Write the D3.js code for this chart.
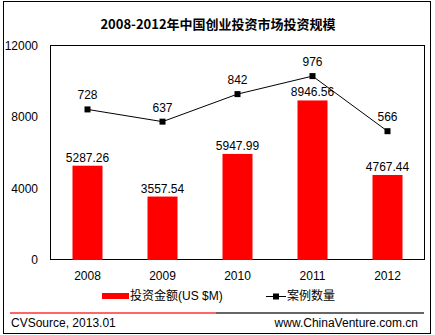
<!DOCTYPE html>
<html><head><meta charset="utf-8">
<script src="https://d3js.org/d3.v7.min.js"></script>
<style>body{margin:0;background:#fff}svg{display:block}</style>
</head><body>
<script>
const years = ["2008","2009","2010","2011","2012"];
const amounts = [5287.26, 3557.54, 5947.99, 8946.56, 4767.44];
const amountLabels = ["5287.26","3557.54","5947.99","8946.56","4767.44"];
const cases = [728, 637, 842, 976, 566];
const yTicks = [0, 4000, 8000, 12000];
const title = "2008-2012年中国创业投资市场投资规模";
const legendBar = "投资金额(US $M)";
const legendLine = "案例数量";
const sourceText = "CVSource, 2013.01";
const siteText = "www.ChinaVenture.com.cn";

const W = 435, H = 335;
const svg = d3.select("body").append("svg").attr("width", W).attr("height", H);
const numFont = "'Liberation Sans', Arial, sans-serif";
const cjkFont = "'Liberation Sans', 'Noto Sans CJK SC', sans-serif";

svg.append("rect").attr("x", 3.5).attr("y", 1.5).attr("width", 427).attr("height", 332)
  .attr("fill", "#fff").attr("stroke", "#000");

svg.append("text").attr("x", 218).attr("y", 29).attr("text-anchor", "middle")
  .attr("font-family", "'Noto Sans CJK SC', sans-serif").attr("font-weight", "bold")
  .attr("font-size", 13).attr("fill", "#000").text(title);

const L = 50, R = 425, T = 46, B = 260;
const x = d3.scaleBand().domain(years).range([L, R]).paddingInner(0.6).paddingOuter(0.3);
const y = d3.scaleLinear().domain([0, 12000]).range([B, T]);
const y2 = d3.scaleLinear().domain([-400, 1200]).range([B + 1, T]);

svg.append("rect").attr("x", L + 0.5).attr("y", T - 0.5).attr("width", R - L - 1).attr("height", B - T)
  .attr("fill", "none").attr("stroke", "#000");

// y tick labels
svg.append("g").selectAll("text").data(yTicks).join("text")
  .attr("x", 38).attr("y", d => y(d) + 4).attr("text-anchor", "end")
  .attr("font-family", numFont).attr("font-size", 12).attr("fill", "#000").text(d => d);

// x labels
svg.append("g").selectAll("text").data(years).join("text")
  .attr("x", d => x(d) + x.bandwidth() / 2).attr("y", B + 20).attr("text-anchor", "middle")
  .attr("font-family", numFont).attr("font-size", 12).attr("fill", "#000").text(d => d);

// bars
svg.append("g").selectAll("rect").data(amounts).join("rect")
  .attr("x", (d, i) => x(years[i])).attr("width", x.bandwidth())
  .attr("y", d => y(d)).attr("height", d => B - y(d)).attr("fill", "#ff0000");

svg.append("g").selectAll("text").data(amounts).join("text")
  .attr("x", (d, i) => x(years[i]) + x.bandwidth() / 2).attr("y", d => y(d) - 4)
  .attr("text-anchor", "middle").attr("font-family", numFont).attr("font-size", 12)
  .attr("fill", "#000").text((d, i) => amountLabels[i]);

// line
const cx = i => x(years[i]) + x.bandwidth() / 2;
const line = d3.line().x((d, i) => cx(i)).y(d => y2(d));
svg.append("path").datum(cases).attr("d", line).attr("fill", "none").attr("stroke", "#000").attr("stroke-width", 1);
svg.append("g").selectAll("rect").data(cases).join("rect")
  .attr("x", (d, i) => cx(i) - 3).attr("y", d => y2(d) - 3).attr("width", 6).attr("height", 6).attr("fill", "#000");
svg.append("g").selectAll("text").data(cases).join("text")
  .attr("x", (d, i) => cx(i)).attr("y", d => y2(d) - 10).attr("text-anchor", "middle")
  .attr("font-family", numFont).attr("font-size", 12).attr("fill", "#000").text(d => d);

// legend
svg.append("rect").attr("x", 102).attr("y", 293).attr("width", 27).attr("height", 6).attr("fill", "#ff0000");
svg.append("text").attr("x", 130).attr("y", 300).attr("font-family", cjkFont).attr("font-size", 12)
  .attr("fill", "#000").text(legendBar);
svg.append("line").attr("x1", 266).attr("x2", 286).attr("y1", 296.5).attr("y2", 296.5).attr("stroke", "#000");
svg.append("rect").attr("x", 273).attr("y", 293.5).attr("width", 6).attr("height", 6).attr("fill", "#000");
svg.append("text").attr("x", 287).attr("y", 300).attr("font-family", cjkFont).attr("font-size", 12)
  .attr("fill", "#000").text(legendLine);

// footer
svg.append("line").attr("x1", 10).attr("x2", 216).attr("y1", 313).attr("y2", 313).attr("stroke", "#ff3333").attr("stroke-width", 1.5);
svg.append("line").attr("x1", 216).attr("x2", 424).attr("y1", 313).attr("y2", 313).attr("stroke", "#333").attr("stroke-width", 1.5);
svg.append("text").attr("x", 11).attr("y", 327).attr("font-family", numFont).attr("font-size", 12)
  .attr("fill", "#000").text(sourceText);
svg.append("text").attr("x", 418).attr("y", 327).attr("text-anchor", "end").attr("font-family", numFont)
  .attr("font-size", 12).attr("fill", "#000").text(siteText);
</script>
</body></html>
